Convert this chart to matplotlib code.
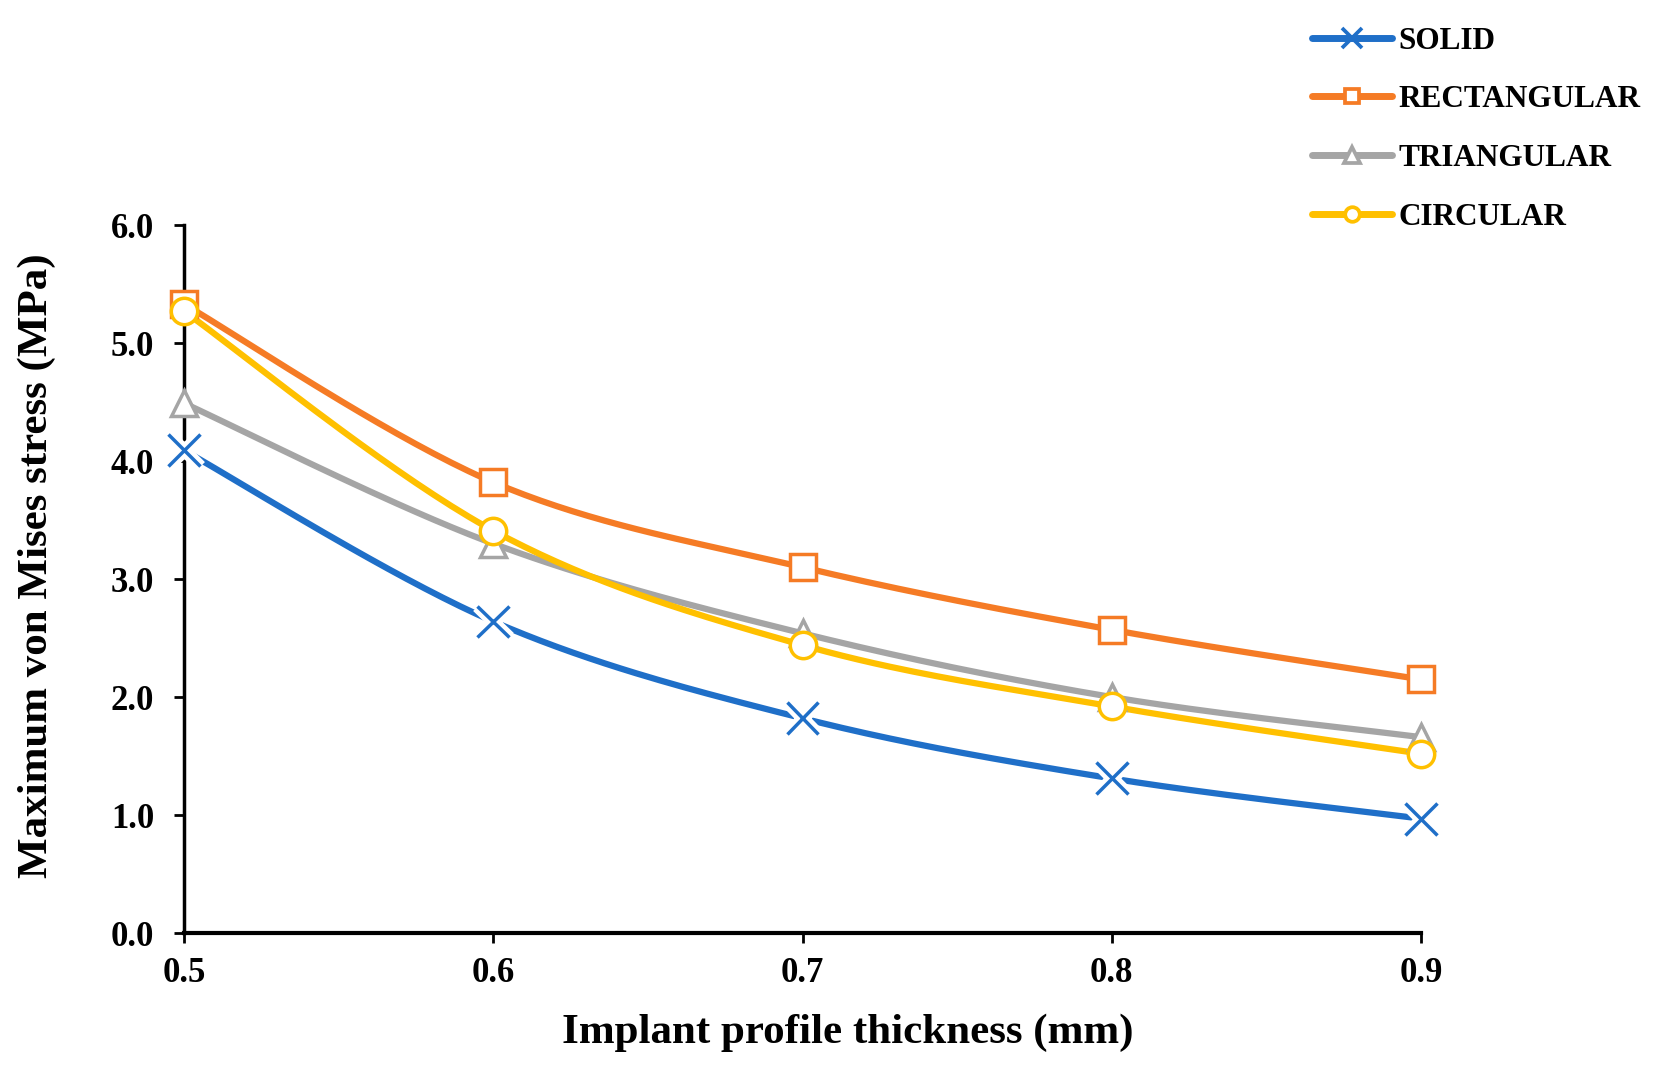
import numpy as np
import matplotlib
matplotlib.use('Agg')
import matplotlib.pyplot as plt
from matplotlib.lines import Line2D
import matplotlib.patheffects as pe

plt.rcParams['font.family'] = ['Liberation Serif', 'DejaVu Serif']
plt.rcParams['font.weight'] = 'bold'

# データ
thickness = [0.5, 0.6, 0.7, 0.8, 0.9]
solid = [4.09, 2.64, 1.82, 1.31, 0.97]
rectangular = [5.33, 3.82, 3.10, 2.57, 2.15]
triangular = [4.49, 3.30, 2.54, 2.00, 1.66]
circular = [5.27, 3.41, 2.44, 1.92, 1.52]

names = ['SOLID', 'RECTANGULAR', 'TRIANGULAR', 'CIRCULAR']
series = [solid, rectangular, triangular, circular]
colors = ['#1F6FC8', '#F57B25', '#A5A5A5', '#FFC000']
markers = ['x', 's', '^', 'o']
legend_ms = [15, 10.5, 11, 10.5]


# Excel風のスムージング線 (Bezier / Catmull-Rom)
def smooth(xs, ys, xscale=26.0, n=40):
    X = np.array(xs) * xscale
    Y = np.array(ys, dtype=float)
    P = np.column_stack([X, Y])
    P = np.vstack([P[0], P, P[-1]])
    out = []
    for i in range(1, len(P) - 2):
        p0, p1, p2, p3 = P[i - 1], P[i], P[i + 1], P[i + 2]
        c1 = p1 + (p2 - p0) / 6
        c2 = p2 - (p3 - p1) / 6
        t = np.linspace(0, 1, n)[:, None]
        seg = ((1 - t) ** 3) * p1 + 3 * ((1 - t) ** 2) * t * c1 + 3 * (1 - t) * t ** 2 * c2 + t ** 3 * p2
        out.append(seg)
    out = np.vstack(out)
    return out[:, 0] / xscale, out[:, 1]


fig = plt.figure(figsize=(16.81, 10.77), dpi=100)
ax = fig.add_axes([0.1095, 0.1337, 0.7358, 0.6573])

handles = []
for name, vals, c, m, lms in zip(names, series, colors, markers, legend_ms):
    sx, sy = smooth(thickness, vals)
    ax.plot(sx, sy, color=c, lw=4.5, solid_capstyle='round', zorder=2, clip_on=False)
    if m == 'x':
        ax.plot(thickness, vals, linestyle='none', marker='x', markersize=23,
                markeredgewidth=2.5, color=c, zorder=3, clip_on=False,
                path_effects=[pe.Stroke(linewidth=9, foreground='white'), pe.Normal()])
    else:
        ax.plot(thickness, vals, linestyle='none', marker=m, markersize=19,
                markeredgewidth=2.5, markeredgecolor=c, markerfacecolor='white',
                zorder=3, clip_on=False)
    handles.append(Line2D([], [], color=c, lw=5, marker=m, markersize=lms,
                          markeredgewidth=2.7, markeredgecolor=c,
                          markerfacecolor='white', solid_capstyle='round'))

ax.set_xlim(0.5, 0.9)
ax.set_ylim(0, 6)
ax.set_xticks(thickness)
ax.set_xticklabels(['0.5', '0.6', '0.7', '0.8', '0.9'])
ax.set_yticks(np.arange(0, 6.1, 1.0))
ax.set_yticklabels(['0.0', '1.0', '2.0', '3.0', '4.0', '5.0', '6.0'])
ax.tick_params(axis='both', labelsize=25, direction='out', length=7.5, width=2)
ax.tick_params(axis='x', pad=10)
ax.tick_params(axis='y', pad=14)

for s in ['top', 'right']:
    ax.spines[s].set_visible(False)
ax.spines['left'].set_linewidth(2.5)
ax.spines['bottom'].set_linewidth(3)

# 軸ラベル
fig.text(848 / 1681, 1 - 1033 / 1077, 'Implant profile thickness (mm)',
         fontsize=31, fontweight='bold', ha='center', va='center')
fig.text(37 / 1681, 1 - 566 / 1077, 'Maximum von Mises stress (MPa)',
         fontsize=31, fontweight='bold', ha='center', va='center', rotation=90)

fig.legend(handles, names, loc='upper left', bbox_to_anchor=(0.773, 0.987),
           frameon=False, handlelength=2.56, handletextpad=0.2, borderaxespad=0,
           labelspacing=0.95, prop={'weight': 'bold', 'size': 22.5})

plt.savefig('out.png', dpi=100)
